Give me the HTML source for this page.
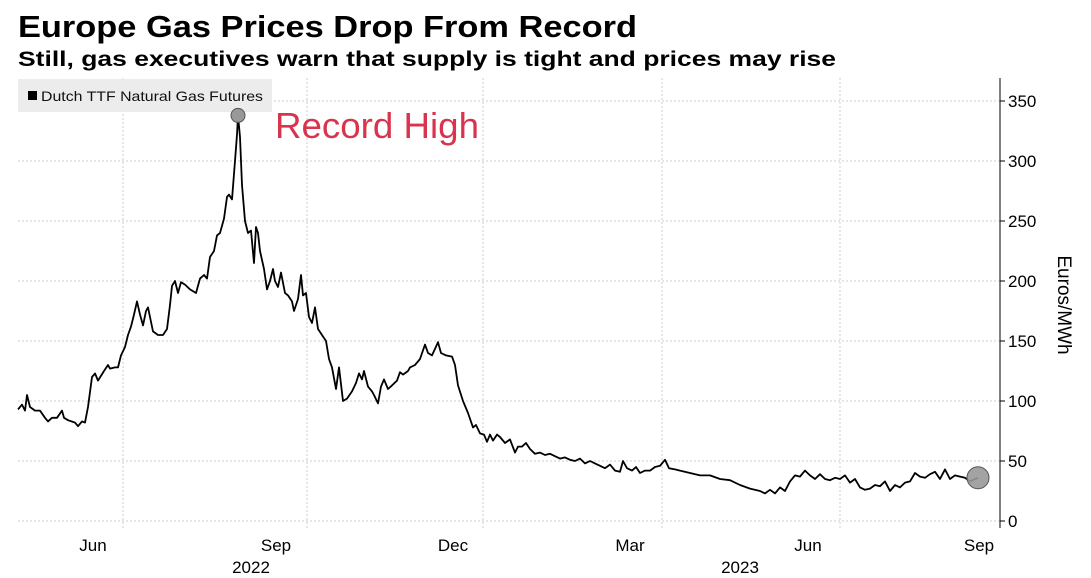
<!DOCTYPE html>
<html><head><meta charset="utf-8"><style>
body{margin:0;background:#fff;width:1091px;height:578px;overflow:hidden;font-family:"Liberation Sans",sans-serif}
svg{display:block}
</style></head><body>
<svg width="1091" height="578" id="chart">
<text x="18" y="37" font-size="31" font-weight="bold" fill="#000" textLength="619" lengthAdjust="spacingAndGlyphs">Europe Gas Prices Drop From Record</text>
<text x="18" y="66" font-size="21" font-weight="bold" fill="#000" textLength="818" lengthAdjust="spacingAndGlyphs">Still, gas executives warn that supply is tight and prices may rise</text>
<g id="grid"></g>
<rect x="18" y="79" width="254" height="33" fill="#ececec"/>
<rect x="28" y="91" width="9" height="9" fill="#000"/>
<text x="41" y="101" font-size="14" fill="#111" textLength="222" lengthAdjust="spacingAndGlyphs">Dutch TTF Natural Gas Futures</text>
<text x="275" y="138" font-size="36" fill="#d9344e" textLength="204" lengthAdjust="spacingAndGlyphs">Record High</text>
<g id="axes"></g>
<g id="series"></g>
<text transform="translate(1058,305) rotate(90)" text-anchor="middle" font-size="19" fill="#000">Euros/MWh</text>
</svg>
<script>
const t=[0,4,7,9,12,17,22,27,30,34,39,44,46,50,57,60,64,67,70,74,77,80,86,90,92,97,100,103,107,110,113,116,119,122,125,128,130,132,135,140,145,149,152,154,157,160,163,167,172,178,182,186,189,192,196,199,202,206,209,211,214,217,219,220,222,224,227,230,233,236,238,240,242,246,249,252,255,257,260,263,267,270,274,276,280,283,285,288,291,294,297,300,304,308,311,314,318,321,325,329,334,338,341,344,346,350,354,356,360,363,366,370,374,379,382,385,390,392,397,402,407,410,414,420,423,428,434,437,440,445,450,455,458,462,466,469,472,475,479,482,487,492,497,500,504,508,512,517,522,527,532,537,542,547,552,557,562,567,572,577,582,587,592,597,602,605,609,614,618,622,627,632,637,642,647,651,657,662,672,682,692,702,712,722,732,742,747,752,757,762,767,772,777,782,787,792,797,802,807,812,817,822,827,832,837,842,847,852,857,862,867,872,877,882,887,892,897,902,907,912,917,922,927,932,937,942,947,952,957,960];
const prices=[93,97,92,105,95,92,92,86,83,86,86,92,86,84,82,79,83,82,95,120,123,117,125,130,127,128,128,138,145,155,162,172,183,172,163,175,178,170,158,155,155,160,180,196,200,190,199,197,193,190,202,205,202,220,225,238,240,252,270,272,268,300,322,338,320,280,250,240,242,215,245,240,225,210,193,200,210,200,195,207,190,188,183,175,185,205,188,190,170,165,178,160,155,150,135,128,110,128,100,102,108,115,123,118,125,112,108,105,98,112,118,110,113,117,124,122,125,128,130,135,147,140,138,149,140,138,137,130,113,100,90,78,80,73,72,66,72,67,72,70,65,68,57,62,62,65,60,56,57,55,56,54,52,53,51,50,52,48,50,48,46,44,47,42,41,50,44,42,45,40,42,42,45,46,51,44,43,42,40,38,38,35,34,30,27,25,23,26,23,28,25,33,38,37,42,38,35,39,35,34,36,35,38,32,35,28,26,27,30,29,33,25,30,28,32,33,40,37,36,39,41,35,43,35,38,37,36,33,35,36];
const yTicks=[0,50,100,150,200,250,300,350];
const monthTicks=[105,289,465,644,822];
const monthLabels=["Jun","Sep","Dec","Mar","Jun","Sep"];
const NS="http://www.w3.org/2000/svg";
const X0=18,X1=1000,Y0=521;
const xs=v=>X0+v;
const ys=v=>Y0-v*1.2;
function mk(tag,attrs,parent){const e=document.createElementNS(NS,tag);for(const k in attrs)e.setAttribute(k,attrs[k]);parent.appendChild(e);return e;}
const grid=document.getElementById('grid'),axes=document.getElementById('axes'),series=document.getElementById('series');
yTicks.forEach(v=>{
  const l=mk('line',{x1:X0,x2:X1,y1:ys(v),y2:ys(v),stroke:'#ccc','stroke-width':1,'stroke-dasharray':'2,2'},grid);
  
  
  const tk=mk('line',{x1:X1,x2:X1+5,y1:ys(v),y2:ys(v),stroke:'#000'},axes);
  
  
  const tx=mk('text',{x:X1+8,y:ys(v)+6,'font-size':17,fill:'#000'},axes);
  tx.textContent=v;
  
  
});
monthTicks.forEach(v=>{
  const l=mk('line',{x1:xs(v),x2:xs(v),y1:78,y2:528,stroke:'#ccc','stroke-width':1,'stroke-dasharray':'2,2'},grid);
  
  
});
const labelX=[93,276,453,630,808,979];
monthLabels.forEach((m,i)=>{
  const tx=mk('text',{x:labelX[i],y:551,'font-size':17,'text-anchor':'middle',fill:'#000'},axes);
  tx.textContent=m;
  
  
});
[["2022",251],["2023",740]].forEach(([y,x])=>{
  const tx=mk('text',{x:x,y:573,'font-size':17,'text-anchor':'middle',fill:'#000'},axes);
  tx.textContent=y;
  
  
});
const ax=mk('line',{x1:X1,x2:X1,y1:78,y2:528,stroke:'#000','stroke-width':1},axes);


const d=t.map((v,i)=>(i?'L':'M')+xs(v).toFixed(1)+','+ys(prices[i]).toFixed(1)).join('');
const p=mk('path',{d:d,fill:'none',stroke:'#000','stroke-width':1.8,'stroke-linejoin':'round'},series);


let mi=0;prices.forEach((v,i)=>{if(v>prices[mi])mi=i;});
const c1=mk('circle',{cx:xs(t[mi]),cy:ys(prices[mi]),r:7,fill:'#999',stroke:'#555','stroke-width':1},series);


const n=t.length-1;
const c2=mk('circle',{cx:xs(t[n]),cy:ys(prices[n]),r:11,fill:'#999',stroke:'#555','stroke-width':1,'fill-opacity':0.9},series);


</script>
</body></html>
